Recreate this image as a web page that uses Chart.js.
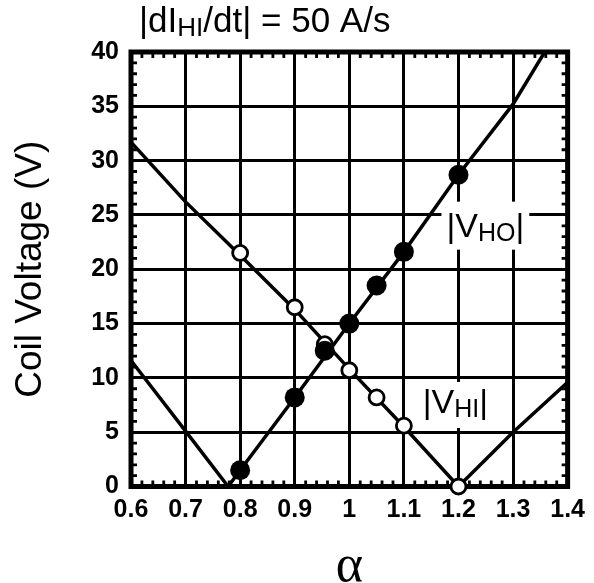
<!DOCTYPE html>
<html>
<head>
<meta charset="utf-8">
<script src="https://cdn.jsdelivr.net/npm/chart.js@4/dist/chart.umd.min.js"></script>
<style>
  html, body { margin: 0; padding: 0; background: #fff; }
  #wrap { width: 594px; height: 583px; }
</style>
</head>
<body>
<div id="wrap"><canvas id="c" width="594" height="583"></canvas></div>
<script>
// ---- data ----
const alphaHI = [0.8, 0.9, 0.955, 1.0, 1.05, 1.1, 1.2];
const vHI     = [21.5, 16.5, 13.1, 10.7, 8.2, 5.6, 0.0];
const alphaHO = [0.8, 0.9, 0.955, 1.0, 1.05, 1.1, 1.2];
const vHO     = [1.5, 8.2, 12.5, 15.0, 18.5, 21.6, 28.7];

// theory curves (drawn lines)
const lineHIx = [0.6, 0.7, 0.8, 0.9, 1.0, 1.1, 1.2, 1.3, 1.4];
const lineHIy = [31.7, 26.2, 21.3, 16.3, 10.8, 5.5, 0.0, 5.0, 9.6];
const lineHOx = [0.6, 0.7, 0.778, 0.8, 0.9, 1.0, 1.1, 1.2, 1.3, 1.358];
const lineHOy = [11.6, 5.1, 0.0, 1.5, 8.2, 15.0, 21.6, 28.7, 35.2, 40.0];

const xTickValues = [0.6, 0.7, 0.8, 0.9, 1.0, 1.1, 1.2, 1.3, 1.4];
const xTickLabels = ['0.6', '0.7', '0.8', '0.9', '1', '1.1', '1.2', '1.3', '1.4'];
const yTickValues = [0, 5, 10, 15, 20, 25, 30, 35, 40];
const yTickLabels = ['0', '5', '10', '15', '20', '25', '30', '35', '40'];

const titleMain = '|dI';
const titleSub = 'HI';
const titleRest = '/dt| = 50 A/s';
const xTitle = 'α';
const yTitle = 'Coil Voltage (V)';

// label anchors (data coordinates of text start / baseline)
const labelHO = { x: 1.178, y: 23.0, main: '|V', sub: 'HO', end: '|' };
const labelHI = { x: 1.1345, y: 6.77, main: '|V', sub: 'HI', end: '|' };

const toPts = (xs, ys) => xs.map((x, i) => ({ x: x, y: ys[i] }));

const SANS = '"Liberation Sans", Arial, sans-serif';

function drawSubText(ctx, x, y, main, sub, end, big, small, drop) {
  ctx.font = big + 'px ' + SANS;
  ctx.fillText(main, x, y);
  let w = ctx.measureText(main).width;
  ctx.font = small + 'px ' + SANS;
  ctx.fillText(sub, x + w, y + drop);
  w += ctx.measureText(sub).width;
  ctx.font = big + 'px ' + SANS;
  ctx.fillText(end, x + w, y);
  w += ctx.measureText(end).width;
  return w;
}

function measureSub(ctx, main, sub, end, big, small) {
  ctx.font = big + 'px ' + SANS;
  let w = ctx.measureText(main).width + ctx.measureText(end).width;
  ctx.font = small + 'px ' + SANS;
  w += ctx.measureText(sub).width;
  return w;
}

const decor = {
  id: 'decor',
  beforeDatasetsDraw(chart) {
    const { ctx, chartArea: a, scales } = chart;
    const xs = scales.x, ys = scales.y;
    ctx.save();
    ctx.strokeStyle = '#000';
    ctx.fillStyle = '#000';
    // minor ticks
    ctx.lineWidth = 2.8;
    ctx.beginPath();
    for (let i = 0; i <= 40; i++) {
      if (i % 5 === 0) continue;
      const px = xs.getPixelForValue(0.6 + i * 0.02);
      ctx.moveTo(px, a.bottom); ctx.lineTo(px, a.bottom - 6);
      ctx.moveTo(px, a.top); ctx.lineTo(px, a.top + 6);
      const py = ys.getPixelForValue(i);
      ctx.moveTo(a.left, py); ctx.lineTo(a.left + 6, py);
      ctx.moveTo(a.right, py); ctx.lineTo(a.right - 6, py);
    }
    ctx.stroke();
    // frame
    ctx.lineWidth = 5;
    ctx.strokeRect(a.left, a.top, a.right - a.left, a.bottom - a.top);

    // curve labels with white boxes
    ctx.textBaseline = 'alphabetic';
    ctx.textAlign = 'left';
    [[labelHO, 35, 13], [labelHI, 31, 15]].forEach(([L, up, down]) => {
      const px = xs.getPixelForValue(L.x);
      const py = ys.getPixelForValue(L.y);
      const w = measureSub(ctx, L.main, L.sub, L.end, 34, 25);
      ctx.fillStyle = '#fff';
      ctx.fillRect(px - 5, py - up, w + 10, up + down);
      ctx.fillStyle = '#000';
      drawSubText(ctx, px, py, L.main, L.sub, L.end, 34, 25, 4);
    });
    ctx.restore();
  },
  afterDraw(chart) {
    const { ctx } = chart;
    ctx.save();
    ctx.fillStyle = '#000';
    ctx.textBaseline = 'alphabetic';
    ctx.textAlign = 'left';
    drawSubText(ctx, 139, 32, titleMain, titleSub, titleRest, 35, 26, 4);
    ctx.restore();
  }
};

new Chart(document.getElementById('c'), {
  type: 'scatter',
  data: {
    datasets: [
      {
        label: '|VHO| data',
        data: toPts(alphaHO, vHO),
        pointRadius: 10,
        pointBackgroundColor: '#000',
        pointBorderWidth: 0,
        showLine: false,
        clip: false,
        order: 0
      },
      {
        label: '|VHI| data',
        data: toPts(alphaHI, vHI),
        pointRadius: 7.5,
        pointBackgroundColor: '#fff',
        pointBorderColor: '#000',
        pointBorderWidth: 2.8,
        showLine: false,
        clip: false,
        order: 1
      },
      {
        label: '|VHI|',
        data: toPts(lineHIx, lineHIy),
        showLine: true,
        borderColor: '#000',
        borderWidth: 3.5,
        pointRadius: 0,
        tension: 0,
        order: 2
      },
      {
        label: '|VHO|',
        data: toPts(lineHOx, lineHOy),
        showLine: true,
        borderColor: '#000',
        borderWidth: 3.5,
        pointRadius: 0,
        tension: 0,
        order: 3
      }
    ]
  },
  options: {
    responsive: false,
    animation: false,
    devicePixelRatio: 1,
    layout: { padding: { top: 52, right: 23, left: 0, bottom: 0 } },
    plugins: { legend: { display: false }, tooltip: { enabled: false }, title: { display: false } },
    scales: {
      x: {
        type: 'linear',
        min: 0.6, max: 1.4,
        afterBuildTicks: (s) => { s.ticks = xTickValues.map(v => ({ value: v })); },
        afterFit: (s) => { s.height = 96.5; },
        ticks: {
          color: '#000',
          padding: 9,
          maxRotation: 0,
          autoSkip: false,
          font: { family: SANS, size: 25, weight: 'bold' },
          callback: (v, i) => xTickLabels[i]
        },
        grid: { color: '#000', lineWidth: 3, drawTicks: false },
        border: { display: false },
        title: {
          display: true, text: xTitle, color: '#000',
          font: { family: '"Liberation Serif", "Times New Roman", serif', size: 52, lineHeight: 1 },
          padding: { top: 0, bottom: -10 }
        }
      },
      y: {
        type: 'linear',
        min: 0, max: 40,
        afterBuildTicks: (s) => { s.ticks = yTickValues.map(v => ({ value: v })); },
        afterFit: (s) => { s.width = 131; },
        ticks: {
          color: '#000',
          padding: 12,
          autoSkip: false,
          font: { family: SANS, size: 25, weight: 'bold' },
          callback: (v, i) => yTickLabels[i]
        },
        grid: { color: '#000', lineWidth: 3, drawTicks: false },
        border: { display: false },
        title: {
          display: true, text: yTitle, color: '#000',
          font: { family: SANS, size: 37, lineHeight: 1.2 },
          padding: { top: 9, bottom: 0 }
        }
      }
    }
  },
  plugins: [decor]
});
</script>
</body>
</html>
